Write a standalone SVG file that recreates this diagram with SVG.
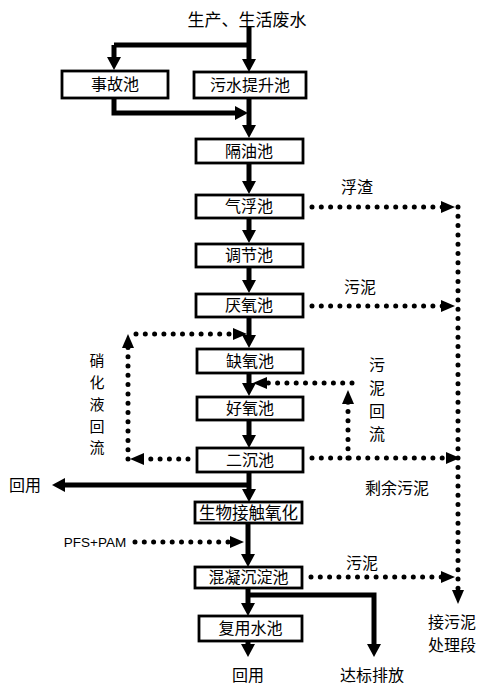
<svg xmlns="http://www.w3.org/2000/svg" width="483" height="687" viewBox="0 0 483 687">
<style>
.box{fill:#fff;stroke:#000;stroke-width:2.8}
.t{font-family:"Noto Sans CJK SC","Liberation Sans",sans-serif;font-size:16px;fill:#000;text-anchor:middle}
.thick{fill:none;stroke:#000;stroke-width:5;marker-end:url(#ah)}
.thin{fill:none;stroke:#000;stroke-width:5}
.dot{fill:none;stroke:#000;stroke-width:5;stroke-linecap:round;stroke-dasharray:0 9.3;marker-end:url(#ahd)}
</style>
<defs>
<marker id="ah" markerWidth="14" markerHeight="14" refX="3" refY="7" orient="auto" markerUnits="userSpaceOnUse"><path d="M0,0 L13,7 L0,14 z" fill="#000"/></marker>
<marker id="ahd" markerWidth="15" markerHeight="12" refX="4" refY="6" orient="auto" markerUnits="userSpaceOnUse"><path d="M0,0 L14,6 L0,12 z" fill="#000"/></marker>
</defs>
<rect width="483" height="687" fill="#fff"/>
<g id="connectors">
<path class="thin" d="M249,45 H114"/>
<path class="thick" d="M249,27 V62"/>
<path class="thick" d="M114,45 V60"/>
<path class="thick" d="M114,98 V113 H238"/>
<path class="thick" d="M249,98 V128"/>
<path class="thick" d="M249,163 V184"/>
<path class="thick" d="M249,218 V233"/>
<path class="thick" d="M249,267 V283"/>
<path class="thick" d="M249,317 V338"/>
<path class="thick" d="M249,373 V386"/>
<path class="thick" d="M249,420 V438"/>
<path class="thick" d="M249,472 V492"/>
<path class="thick" d="M249,485 H62"/>
<path class="thick" d="M248,523 V557"/>
<path class="thick" d="M248,588 V606"/>
<path class="thick" d="M248,595 H374 V647"/>
<path class="thick" d="M248,641 V647"/>
<path class="dot" d="M312,207 H445"/>
<path class="dot" d="M312,306 H445"/>
<path class="dot" d="M312,458 H450"/>
<path class="dot" d="M311,577 H445"/>
<path class="dot" d="M458,207 V594"/>
<path class="dot" d="M348,458 V400"/>
<path class="dot" d="M352,383 H263"/>
<path class="dot" d="M188,459 H140"/>
<path class="dot" d="M128,459 V344"/>
<path class="dot" d="M136,334 H237"/>
<path class="dot" d="M135,542 H234"/>
</g>
<g id="source"><text class="t" x="247" y="26" style="font-size:17px">生产、生活废水</text></g>
<g id="n-shigu"><rect class="box" x="62" y="71" width="106" height="27"/><text class="t" x="115" y="90">事故池</text></g>
<g id="n-tisheng"><rect class="box" x="194" y="72" width="112" height="26"/><text class="t" x="250" y="91">污水提升池</text></g>
<g id="n-geyou"><rect class="box" x="196" y="139" width="107" height="24"/><text class="t" x="249" y="157">隔油池</text></g>
<g id="n-qifu"><rect class="box" x="196" y="195" width="107" height="23"/><text class="t" x="249" y="212">气浮池</text></g>
<g id="n-tiaojie"><rect class="box" x="196" y="244" width="107" height="23"/><text class="t" x="249" y="261">调节池</text></g>
<g id="n-yanyang"><rect class="box" x="196" y="294" width="107" height="23"/><text class="t" x="249" y="311">厌氧池</text></g>
<g id="n-queyang"><rect class="box" x="197" y="349" width="106" height="24"/><text class="t" x="250" y="367">缺氧池</text></g>
<g id="n-haoyang"><rect class="box" x="197" y="397" width="106" height="23"/><text class="t" x="250" y="414">好氧池</text></g>
<g id="n-erchen"><rect class="box" x="197" y="448" width="106" height="24"/><text class="t" x="250" y="466">二沉池</text></g>
<g id="n-shengwu"><rect class="box" x="195" y="502" width="107" height="21"/><text class="t" x="248.5" y="518.5" style="font-size:16.5px">生物接触氧化</text></g>
<g id="n-hunning"><rect class="box" x="195" y="567" width="107" height="21"/><text class="t" x="248.5" y="583">混凝沉淀池</text></g>
<g id="n-fuyong"><rect class="box" x="199" y="616" width="103" height="25"/><text class="t" x="250.5" y="634">复用水池</text></g>
<g id="labels">
<text class="t" x="357" y="193">浮渣</text>
<text class="t" x="360" y="293">污泥</text>
<text class="t" x="397" y="494">剩余污泥</text>
<text class="t" x="362" y="569">污泥</text>
<text class="t" x="377" y="371">污</text>
<text class="t" x="377" y="394">泥</text>
<text class="t" x="377" y="417">回</text>
<text class="t" x="377" y="440">流</text>
<text class="t" x="97" y="366" style="font-size:15px">硝</text>
<text class="t" x="97" y="388" style="font-size:15px">化</text>
<text class="t" x="97" y="410" style="font-size:15px">液</text>
<text class="t" x="97" y="432" style="font-size:15px">回</text>
<text class="t" x="97" y="453" style="font-size:15px">流</text>
<text class="t" x="25" y="491">回用</text>
<text class="t" x="95" y="547" style="font-family:'Liberation Sans',sans-serif;font-size:13.5px">PFS+PAM</text>
<text class="t" x="248" y="681">回用</text>
<text class="t" x="372" y="681">达标排放</text>
<text class="t" x="452" y="628">接污泥</text>
<text class="t" x="452" y="651">处理段</text>
</g>
</svg>
